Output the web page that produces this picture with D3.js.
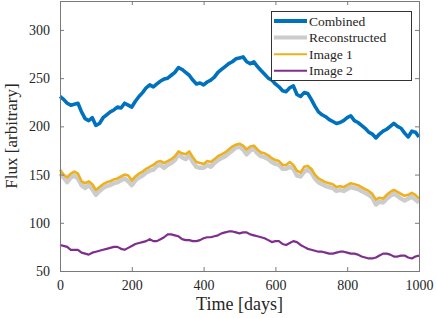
<!DOCTYPE html>
<html>
<head>
<meta charset="utf-8">
<script src="https://cdn.jsdelivr.net/npm/d3@7"></script>
<style>
    body { margin: 0; background: #fff; }
    .axis text { font-family: "Liberation Serif", serif; font-size: 14px; fill: #262626; }
    .axis path, .axis line { stroke: #7a7a7a; }
    .axis_label { font-family: "Liberation Serif", serif; font-size: 18px; fill: #262626; }
    .legend text { font-family: "Liberation Serif", serif; font-size: 13.5px; fill: #262626; }
</style>
</head>
<body>
<div id="chart" style="width:436px;height:318px;"></div>
<script>
// ---------------------------------------------------------------------------- //
//                                     Data                                     //
// ---------------------------------------------------------------------------- //
// one sample every 10 days
var days = d3.range(0, 1001, 10);

var combined = [231,228,224,222,223,224,215,208,206,209,201,203,209,212,215,217,220,219,224,222,
                220,226,231,235,240,243,241,244,247,249,250,253,256,261,259,256,253,248,244,245,
                243,246,248,251,256,259,262,265,267,270,271,272,267,265,267,262,258,254,250,248,
                244,241,237,236,240,242,233,231,235,234,228,221,215,212,210,207,205,203,204,206,
                209,211,206,204,201,198,194,192,188,192,195,197,200,203,200,198,193,189,195,194,189];

var reconstructed = [151,147,142,147,149,146,139,136,139,135,129,133,136,138,139,141,142,144,146,143,
                     139,144,147,149,152,154,155,159,160,157,160,162,165,171,168,166,170,163,158,157,
                     157,160,158,162,165,167,169,172,175,178,179,176,171,175,177,172,169,168,166,163,
                     161,160,156,156,158,156,149,148,153,155,152,146,142,140,138,137,136,133,134,133,
                     135,137,136,135,133,131,129,126,119,122,121,125,128,130,128,125,123,125,127,124,121];

var image1 = [155,150,147,151,153,151,143,141,143,140,134,137,140,142,143,145,146,148,150,149,
              144,148,151,153,156,158,160,163,164,162,164,166,169,174,172,171,174,168,163,162,
              161,164,163,166,169,171,173,176,179,181,182,180,176,179,180,176,173,172,170,167,
              165,164,160,160,163,160,154,152,158,159,156,150,146,144,142,141,140,137,138,137,
              139,141,140,139,137,135,133,130,124,126,125,129,132,134,132,130,128,129,131,129,125];

var image2 = [77,76,75,72,72,72,69,68,67,69,70,71,72,73,74,75,75,73,72,74,
              76,78,79,80,81,83,81,81,83,85,88,88,87,86,83,82,82,81,81,82,
              84,85,85,86,87,89,90,91,91,90,89,90,90,88,87,86,85,84,82,80,
              81,81,78,77,79,81,80,77,75,73,72,71,70,70,69,68,68,69,70,70,
              69,68,68,67,65,64,63,63,64,66,68,68,67,65,65,66,66,64,63,65,66];

var xTicks = [0, 200, 400, 600, 800, 1000];
var yTicks = [50, 100, 150, 200, 250, 300];

var seriesNames = ["Combined", "Reconstructed", "Image 1", "Image 2"];
var seriesValues = [combined, reconstructed, image1, image2];

// ---------------------------------------------------------------------------- //
//                                    Styles                                    //
// ---------------------------------------------------------------------------- //
var seriesColors = ["#0072BD", "#CCCCCC", "#EDB120", "#7E2F8E"];
var seriesWidths = [3.6, 4.4, 2.6, 2.2];
var legendWidths = [4, 4, 2, 2];

var margin = {top: 1, right: 17, bottom: 47, left: 60};
var width = 436 - margin.left - margin.right;
var height = 318 - margin.top - margin.bottom;
var TICK = 4;

var svg = d3.select("#chart")
    .append("svg")
    .attr("width", 436)
    .attr("height", 318)
    .append("g")
    .attr("transform", "translate(" + margin.left + "," + margin.top + ")");

// Scales
//_______________
var x = d3.scaleLinear().domain([0, 1000]).range([0, width]);
var y = d3.scaleLinear().domain([50, 330]).range([height, 0]);

// Lines
//_______________
var line = d3.line()
    .x(function(d) { return x(d[0]); })
    .y(function(d) { return y(d[1]); });

seriesValues.forEach(function(vals, i){
    svg.append("path")
        .datum(days.map(function(t, k){ return [t, vals[k]]; }))
        .attr("fill", "none")
        .attr("stroke", seriesColors[i])
        .attr("stroke-width", seriesWidths[i])
        .attr("stroke-linejoin", "round")
        .attr("d", line);
});

// Axes (box, ticks inward)
//_______________
svg.append("g")
    .attr("class", "axis")
    .attr("transform", "translate(0," + height + ")")
    .call(d3.axisBottom(x).tickValues(xTicks).tickFormat(d3.format("d"))
        .tickSize(-TICK).tickPadding(9).tickSizeOuter(0))
    .select(".domain").remove();

svg.append("g")
    .attr("class", "axis")
    .call(d3.axisTop(x).tickValues(xTicks).tickSize(-TICK).tickFormat("").tickSizeOuter(0))
    .select(".domain").remove();

svg.append("g")
    .attr("class", "axis")
    .call(d3.axisLeft(y).tickValues(yTicks).tickFormat(d3.format("d"))
        .tickSize(-TICK).tickPadding(10).tickSizeOuter(0))
    .select(".domain").remove();

svg.append("g")
    .attr("class", "axis")
    .attr("transform", "translate(" + width + ",0)")
    .call(d3.axisRight(y).tickValues(yTicks).tickSize(-TICK).tickFormat("").tickSizeOuter(0))
    .select(".domain").remove();

svg.append("rect")
    .attr("x", 0.5).attr("y", 0.5)
    .attr("width", width).attr("height", height)
    .attr("fill", "none")
    .attr("stroke", "#7a7a7a")
    .attr("stroke-width", 1);

// Axis labels
//_______________
svg.append("text")
    .attr("class", "axis_label")
    .attr("text-anchor", "middle")
    .attr("x", width / 2)
    .attr("y", height + 39)
    .text("Time [days]");

svg.append("text")
    .attr("class", "axis_label")
    .attr("transform", "rotate(-90)")
    .attr("text-anchor", "middle")
    .attr("x", -height / 2)
    .attr("y", -43)
    .style("font-size", "17px")
    .text("Flux [arbitrary]");

// Legend
//_______________
var legend = svg.append("g")
    .attr("class", "legend")
    .attr("transform", "translate(" + (271 - margin.left) + "," + (11 - margin.top) + ")");

legend.append("rect")
    .attr("x", 0.5).attr("y", 0.5)
    .attr("width", 140).attr("height", 69)
    .attr("fill", "#fff")
    .attr("stroke", "#333")
    .attr("stroke-width", 1);

seriesNames.forEach(function(name, i){
    var ly = 10 + i * 16.6;
    legend.append("line")
        .attr("x1", 3).attr("x2", 36)
        .attr("y1", ly).attr("y2", ly)
        .attr("stroke", seriesColors[i])
        .attr("stroke-width", legendWidths[i]);
    legend.append("text")
        .attr("x", 38)
        .attr("y", ly + 4.5)
        .text(name);
});
</script>
</body>
</html>
